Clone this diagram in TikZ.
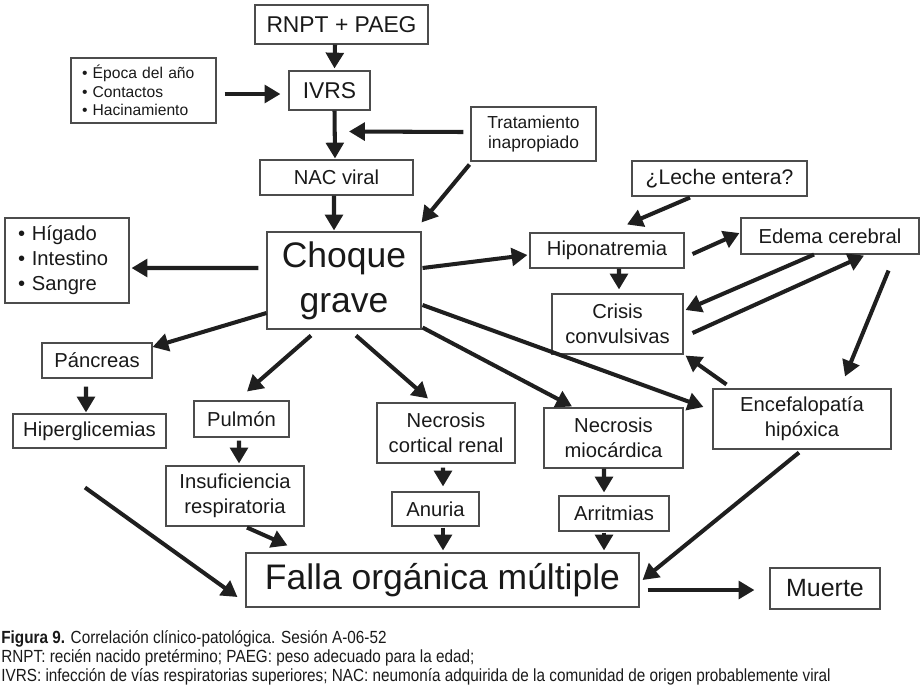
\documentclass[tikz,border=0pt]{standalone}
\usepackage{fontspec}
\setmainfont{Liberation Sans}
\newfontfamily\capfont[FakeStretch=0.87]{Liberation Sans}
\usetikzlibrary{arrows.meta}
\def\fsz#1#2{\fontsize{#1}{#2}\selectfont}
\tikzset{
	box/.style={draw=black!70, line width=0.6pt, text=black!90, inner sep=0pt, align=center, font=\fsz{11.5}{14.2}},
	arr/.style={draw=black!88, line width=2.3pt, -{Triangle[length=9pt,width=10pt]}},
}

\begin{document}
\begin{tikzpicture}
		%%%%% START %%%%%
		\useasboundingbox (0,0) rectangle (18.48,-13.76);
		
		\node[box, minimum width=3.46cm, minimum height=0.78cm, font=\fsz{13}{15}] (rnpt) at (6.83,-0.49) {RNPT + PAEG};
		\node[box, minimum width=2.9cm, minimum height=1.3cm, text width=2.46cm, align=left, font=\fsz{8.9}{10.6}] (epoca) at (2.87,-1.81) {\textbullet\ Época del año\\ \textbullet\ Contactos\\ \textbullet\ Hacinamiento};
		\node[box, minimum width=1.62cm, minimum height=0.78cm, font=\fsz{13}{15}] (ivrs) at (6.59,-1.81) {IVRS};
		\node[box, minimum width=2.5cm, minimum height=1.08cm, font=\fsz{9.9}{11.3}] (trat) at (10.67,-2.68) {Tratamiento\\inapropiado};
		\node[box, minimum width=3.06cm, minimum height=0.70cm] (nac) at (6.73,-3.55) {NAC viral};
		\node[box, minimum width=3.5cm, minimum height=0.70cm, font=\fsz{12}{14}] (leche) at (14.39,-3.57) {¿Leche entera?};
		
		\node[box, minimum width=2.48cm, minimum height=1.70cm, text width=1.96cm, align=left] (higado) at (1.34,-5.21) {\textbullet\ Hígado\\ \textbullet\ Intestino\\ \textbullet\ Sangre};
		\node[box, minimum width=3.08cm, minimum height=1.94cm, font=\fsz{20.2}{25.5}] (choque) at (6.88,-5.61) {Choque\\grave};
		\node[box, minimum width=3.08cm, minimum height=0.70cm] (hipo) at (12.14,-5.01) {Hiponatremia};
		\node[box, minimum width=3.56cm, minimum height=0.72cm] (edema) at (16.6,-4.72) {Edema cerebral};
		\node[box, minimum width=2.62cm, minimum height=1.2cm] (crisis) at (12.35,-6.48) {Crisis\\convulsivas};
		
		\node[box, minimum width=2.2cm, minimum height=0.7cm] (pancreas) at (1.94,-7.21) {Páncreas};
		\node[box, minimum width=3.06cm, minimum height=0.68cm] (hiper) at (1.79,-8.62) {Hiperglicemias};
		\node[box, minimum width=1.9cm, minimum height=0.72cm] (pulmon) at (4.83,-8.38) {Pulmón};
		\node[box, minimum width=2.76cm, minimum height=1.2cm] (insuf) at (4.70,-9.92) {Insuficiencia\\respiratoria};
		\node[box, minimum width=2.76cm, minimum height=1.2cm] (ncort) at (8.92,-8.66) {Necrosis\\cortical renal};
		\node[box, minimum width=1.74cm, minimum height=0.68cm] (anuria) at (8.71,-10.18) {Anuria};
		\node[box, minimum width=2.78cm, minimum height=1.2cm] (nmio) at (12.27,-8.76) {Necrosis\\miocárdica};
		\node[box, minimum width=2.2cm, minimum height=0.7cm] (arrit) at (12.28,-10.27) {Arritmias};
		\node[box, minimum width=3.56cm, minimum height=1.2cm] (encef) at (16.04,-8.38) {Encefalopatía\\hipóxica};
		
		\node[box, minimum width=7.86cm, minimum height=1.08cm, font=\fsz{20.2}{25}] (falla) at (8.85,-11.6) {Falla orgánica múltiple};
		\node[box, minimum width=2.2cm, minimum height=0.82cm, font=\fsz{14.2}{17}] (muerte) at (16.5,-11.77) {Muerte};
		
		% top chain
		\draw[arr] ([shift={(-0.13,0)}]rnpt.south) -- ([shift={(0.1,0.04)}]ivrs.north);
		\draw[arr] ([shift={(0.16,-0.07)}]epoca.east) -- ([shift={(-0.16,-0.07)}]ivrs.west);
		\draw[arr] ([shift={(0.1,0)}]ivrs.south) -- ([shift={(-0.03,0.02)}]nac.north);
		\draw[arr] ([shift={(-0.14,0.04)}]trat.west) -- ([shift={(0.25,0.56)}]nac.north);
		\draw[arr] ([shift={(-0.05,0)}]nac.south) -- ([shift={(-0.2,0.02)}]choque.north);
		\draw[arr] ([shift={(-0.02,-0.06)}]trat.south west) -- ([shift={(0,0.18)}]choque.north east);
		
		% right side
		\draw[arr] ([shift={(-0.16,0.25)}]choque.west) -- ([shift={(0.04,-0.15)}]higado.east);
		\draw[arr] ([shift={(0.02,0.25)}]choque.east) -- ([shift={(-0.04,-0.09)}]hipo.west);
		\draw[arr] ([shift={(-0.59,-0.02)}]leche.south) -- ([shift={(0.40,0.16)}]hipo.north);
		\draw[arr] ([shift={(0.24,0)}]hipo.south) -- ([shift={(0.03,0.08)}]crisis.north);
		\draw[arr] ([shift={(0.16,-0.07)}]hipo.east) -- ([shift={(-0.02,0.06)}]edema.west);
		\draw[arr] ([shift={(-0.32,0)}]edema.south) -- ([shift={(0.04,0.28)}]crisis.east);
		\draw[arr] ([shift={(0.18,-0.18)}]crisis.east) -- ([shift={(0.68,-0.02)}]edema.south);
		\draw[arr] ([shift={(-0.62,-0.32)}]edema.south east) -- ([shift={(0.86,0.24)}]encef.north);
		\draw[arr] ([shift={(0.28,0.08)}]encef.north west) -- ([shift={(0.04,-0.02)}]crisis.south east);
		
		% organs
		\draw[arr] ([shift={(0,-0.65)}]choque.west) -- ([shift={(0,0.27)}]pancreas.east);
		\draw[arr] ([shift={(-0.22,-0.16)}]pancreas.south) -- ([shift={(-0.07,0.02)}]hiper.north);
		\draw[arr] ([shift={(-0.66,-0.12)}]choque.south) -- ([shift={(0.11,0.18)}]pulmon.north);
		\draw[arr] ([shift={(0.24,-0.12)}]choque.south) -- ([shift={(-0.36,0.08)}]ncort.north);
		\draw[arr] ([shift={(0.02,0.04)}]choque.south east) -- ([shift={(-0.83,0.02)}]nmio.north);
		\draw[arr] ([shift={(0.02,-0.49)}]choque.east) -- ([shift={(-0.18,0.24)}]encef.west);
		\draw[arr] ([shift={(-0.05,-0.06)}]pulmon.south) -- ([shift={(0.08,0.04)}]insuf.north);
		\draw[arr] ([shift={(-0.06,-0.08)}]ncort.south) -- ([shift={(0.15,0.10)}]anuria.north);
		\draw[arr] ([shift={(-0.19,0)}]nmio.south) -- ([shift={(-0.2,0.06)}]arrit.north);
		
		% into falla
		\draw[arr] ([shift={(0.24,-0.02)}]insuf.south) -- ([shift={(0.84,0.14)}]falla.north west);
		\draw[arr] ([shift={(0.15,-0.02)}]anuria.south) -- ([shift={(0.01,0.04)}]falla.north);
		\draw[arr] ([shift={(-0.2,-0.02)}]arrit.south) -- ([shift={(3.23,0.04)}]falla.north);
		\draw[arr] ([shift={(-0.09,-0.78)}]hiper.south) -- ([shift={(-0.16,-0.34)}]falla.west);
		\draw[arr] ([shift={(-0.06,-0.06)}]encef.south) -- ([shift={(0.06,0)}]falla.east);
		\draw[arr] ([shift={(0.16,-0.2)}]falla.east) -- ([shift={(-0.3,-0.03)}]muerte.west);
		
		% caption
		\node[anchor=north west, inner sep=0pt, align=left, text=black!90, font=\capfont\fsz{10}{11}] (caption) at (0.02,-12.6) {\textbf{Figura 9.} Correlación clínico-patológica. Sesión A-06-52\\RNPT: recién nacido pretérmino; PAEG: peso adecuado para la edad;\\IVRS: infección de vías respiratorias superiores; NAC: neumonía adquirida de la comunidad de origen probablemente viral};
		
		%%%%% END %%%%%
	\end{tikzpicture}
\end{document}
